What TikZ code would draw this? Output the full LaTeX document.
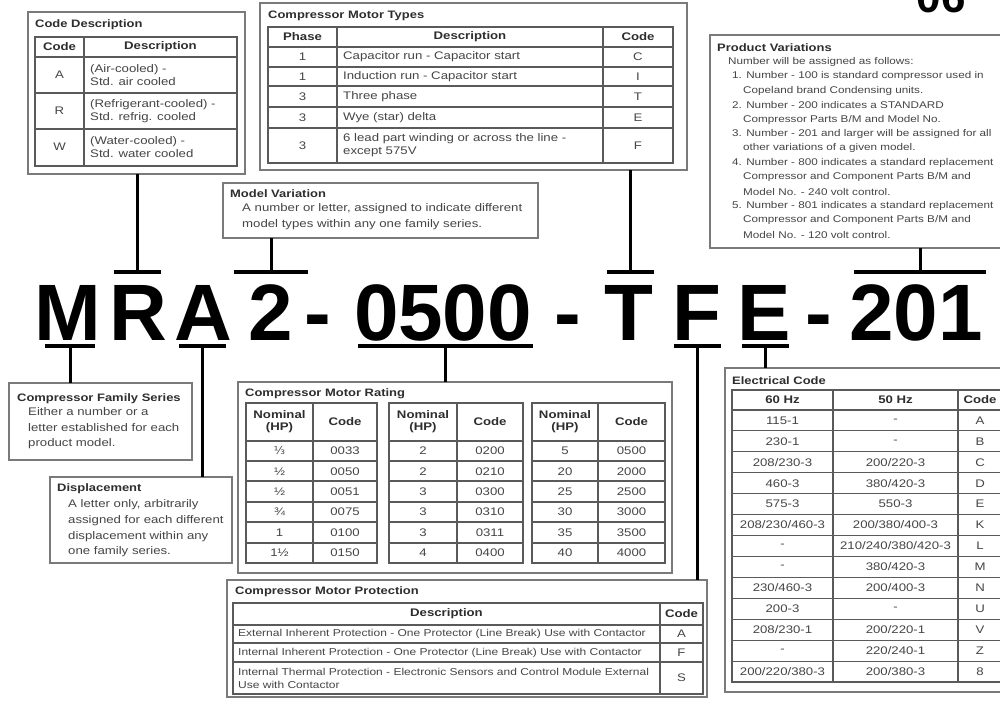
\documentclass[tikz,border=0pt]{standalone}
\usepackage{fontspec}
\setmainfont{Liberation Sans}[FakeStretch=1.2]
\newfontfamily\bigfont{Liberation Sans}
\newfontfamily\symfont{DejaVu Sans}[FakeStretch=1.05]
\definecolor{boxc}{HTML}{7A7A7A}
\definecolor{tblc}{HTML}{5A5A5A}
\definecolor{txtc}{HTML}{454545}
\definecolor{ttlc}{HTML}{2E2E2E}
\tikzset{
  box/.style={draw=boxc, line width=1.8pt, fill=white, inner sep=0pt, outer sep=0pt, anchor=north west},
  tbl/.style={draw=tblc, line width=1.1pt},
  txt/.style={inner sep=0pt, text=txtc, font=\fontsize{11}{13}\selectfont},
  lt/.style={txt, anchor=west, align=left},
  ct/.style={txt, align=center},
  hd/.style={inner sep=0pt, align=center, text=ttlc, font=\fontsize{11}{12}\selectfont\bfseries},
  ttl/.style={inner sep=0pt, anchor=west, text=ttlc, font=\fontsize{10.8}{12}\selectfont\bfseries},
  bar/.style={fill=black, inner sep=0pt, outer sep=0pt, minimum height=4pt},
  conn/.style={draw=black, line width=3pt},
  big/.style={inner sep=0pt, anchor=base, text=black, font=\bigfont\fontsize{80}{80}\selectfont\bfseries},
}
\begin{document}
\begin{tikzpicture}[x=1pt,y=-1pt]
\useasboundingbox (0,0) rectangle (1000,701);
\fill[white] (0,0) rectangle (1000,701);

% page number, cut at top as in the reference
\node[inner sep=0pt, anchor=base, text=black, font=\bigfont\fontsize{44}{44}\selectfont\bfseries] (pg) at (941,13) {06};

% ---------------- boxes ----------------
\node[box, minimum width=217pt, minimum height=162pt] (cd) at (28,12) {};
\node[box, minimum width=427pt, minimum height=167pt] (mt) at (260,3) {};
\node[box, minimum width=315pt, minimum height=55pt] (mv) at (223,183) {};
\node[box, minimum width=300pt, minimum height=213pt] (pv) at (710,35) {};
\node[box, minimum width=183pt, minimum height=77pt] (fs) at (9,383) {};
\node[box, minimum width=182pt, minimum height=86pt] (dp) at (50,477) {};
\node[box, minimum width=434pt, minimum height=191pt] (mr) at (238,382) {};
\node[box, minimum width=285pt, minimum height=324pt] (ec) at (725,368) {};
\node[box, minimum width=480pt, minimum height=117pt] (mp) at (227,580) {};

% ---------------- model number ----------------
\node[big] (lM) at (68,340) {M};
\node[big] (lR) at (138,340) {R};
\node[big] (lA) at (203,340) {A};
\node[big] (l2) at (271,340) {2};
\node[big] (h1) at (318,340) {-};
\node[big] (l0500) at (443,340) {0500};
\node[big] (h2) at (568,340) {-};
\node[big] (lT) at (629,340) {T};
\node[big] (lF) at (697,340) {F};
\node[big] (lE) at (764,340) {E};
\node[big] (h3) at (819,340) {-};
\node[big] (l201) at (916,340) {201};

% bars above
\node[bar, minimum width=47pt] (bR) at (137,272) {};
\node[bar, minimum width=74pt] (b2) at (271,272) {};
\node[bar, minimum width=47pt] (bT) at (630,272) {};
\node[bar, minimum width=132pt] (b201) at (920,272) {};
% bars below
\node[bar, minimum width=50pt] (bM) at (70,346) {};
\node[bar, minimum width=47pt] (bA) at (202,346) {};
\node[bar, minimum width=175pt] (b0500) at (445,346) {};
\node[bar, minimum width=47pt] (bF) at (697,346) {};
\node[bar, minimum width=47pt] (bE) at (765,346) {};

% connectors
\draw[conn] (bR.north) -- (bR.north |- cd.south);
\draw[conn] (b2.north) -- (b2.north |- mv.south);
\draw[conn] (bT.north) -- (bT.north |- mt.south);
\draw[conn] (b201.north) -- (b201.north |- pv.south);
\draw[conn] (bM.south) -- (bM.south |- fs.north);
\draw[conn] (bA.south) -- (bA.south |- dp.north);
\draw[conn] (b0500.south) -- (b0500.south |- mr.north);
\draw[conn] (bF.south) -- (bF.south |- mp.north);
\draw[conn] (bE.south) -- (bE.south |- ec.north);

% ---------------- Code Description ----------------
\node[ttl] (cd-t) at (35,25) {Code Description};
\draw[tbl] (35,37) rectangle (237,166);
\draw[tbl] (84,37) -- (84,166);
\foreach \y in {57,93,129} \draw[tbl] (35,\y) -- (237,\y);
\node[hd] (cd-h1) at (59.5,47) {Code};
\node[hd] (cd-h2) at (160.5,47) {Description};
\foreach \c/\a/\b [count=\i] in {A/{(Air-cooled) -}/{Std. air cooled},
    R/{(Refrigerant-cooled) -}/{Std. refrig. cooled},
    W/{(Water-cooled) -}/{Std. water cooled}} {
  \node[ct] (cd-c\i) at (59.5,{39+36*\i}) {\c};
  \node[lt] (cd-d\i) at (90,{39+36*\i}) {\a\\\b};
}

% ---------------- Compressor Motor Types ----------------
\node[ttl] (mt-t) at (268,16) {Compressor Motor Types};
\draw[tbl] (268,27) rectangle (673,163);
\draw[tbl] (337,27) -- (337,163);
\draw[tbl] (603,27) -- (603,163);
\foreach \y in {47,67,86,107,128} \draw[tbl] (268,\y) -- (673,\y);
\node[hd] (mt-h1) at (302.5,37) {Phase};
\node[hd] (mt-h2) at (470,37) {Description};
\node[hd] (mt-h3) at (638,37) {Code};
\foreach \p/\d/\c/\y [count=\i] in {1/{Capacitor run - Capacitor start}/C/57,
    1/{Induction run - Capacitor start}/I/76.5,
    3/{Three phase}/T/96.5,
    3/{Wye (star) delta}/E/117.5,
    3/{6 lead part winding or across the line -\\except 575V}/F/145.5} {
  \node[ct] (mt-p\i) at (302.5,\y) {\p};
  \node[lt] (mt-d\i) at (343,\y) {\d};
  \node[ct] (mt-c\i) at (638,\y) {\c};
}

% ---------------- Model Variation ----------------
\node[ttl] (mv-t) at (230,194) {Model Variation};
\node[lt, font=\fontsize{11}{16}\selectfont] (mv-b) at (242,217) {A number or letter, assigned to indicate different\\model types within any one family series.};

% ---------------- Product Variations ----------------
\node[ttl] (pv-t) at (717,48) {Product Variations};
\foreach \x/\t [count=\i] in {728/{Number will be assigned as follows:},
    732/{1. Number - 100 is standard compressor used in},
    743/{Copeland brand Condensing units.},
    732/{2. Number - 200 indicates a STANDARD},
    743/{Compressor Parts B/M and Model No.},
    732/{3. Number - 201 and larger will be assigned for all},
    743/{other variations of a given model.},
    732/{4. Number - 800 indicates a standard replacement},
    743/{Compressor and Component Parts B/M and},
    743/{Model No. - 240 volt control.},
    732/{5. Number - 801 indicates a standard replacement},
    743/{Compressor and Component Parts B/M and},
    743/{Model No. - 120 volt control.}} {
  \node[lt, font=\fontsize{9.75}{12}\selectfont] (pv-\i) at (\x,{47.6+14.4*\i}) {\t};
}

% ---------------- Compressor Family Series ----------------
\node[ttl] (fs-t) at (17,399) {Compressor Family Series};
\node[lt, font=\fontsize{11}{15.5}\selectfont] (fs-b) at (28,428.5) {Either a number or a\\letter established for each\\product model.};

% ---------------- Displacement ----------------
\node[ttl] (dp-t) at (57,489) {Displacement};
\node[lt, font=\fontsize{11}{15.7}\selectfont] (dp-b) at (68,528.5) {A letter only, arbitrarily\\assigned for each different\\displacement within any\\one family series.};

% ---------------- Compressor Motor Rating ----------------
\node[ttl] (mr-t) at (245,394) {Compressor Motor Rating};
\foreach \xa/\xb/\xc [count=\k] in {246/313/377, 389/457/523, 532/598/665} {
  \draw[tbl] (\xa,403) rectangle (\xc,563);
  \draw[tbl] (\xb,403) -- (\xb,563);
  \foreach \y in {441,461,481,502,522,543} \draw[tbl] (\xa,\y) -- (\xc,\y);
  \node[hd] (mr-h\k-a) at ({(\xa+\xb)/2},422) {Nominal\\(HP)};
  \node[hd] (mr-h\k-b) at ({(\xb+\xc)/2},422) {Code};
}
\foreach \h/\c [count=\i] in {{{\symfont ⅓}}/0033, ½/0050, ½/0051, ¾/0075, 1/0100, 1½/0150} {
  \node[ct] (mr-a\i) at (279.5,{430.5+20.4*\i}) {\h};
  \node[ct] (mr-b\i) at (345,{430.5+20.4*\i}) {\c};
}
\foreach \h/\c [count=\i] in {2/0200, 2/0210, 3/0300, 3/0310, 3/0311, 4/0400} {
  \node[ct] (mr-c\i) at (423,{430.5+20.4*\i}) {\h};
  \node[ct] (mr-d\i) at (490,{430.5+20.4*\i}) {\c};
}
\foreach \h/\c [count=\i] in {5/0500, 20/2000, 25/2500, 30/3000, 35/3500, 40/4000} {
  \node[ct] (mr-e\i) at (565,{430.5+20.4*\i}) {\h};
  \node[ct] (mr-f\i) at (631.5,{430.5+20.4*\i}) {\c};
}

% ---------------- Electrical Code ----------------
\node[ttl] (ec-t) at (732,381) {Electrical Code};
\draw[tbl] (732,390) rectangle (1002,682);
\draw[tbl] (833,390) -- (833,682);
\draw[tbl] (958,390) -- (958,682);
\draw[tbl] (732,410) -- (1002,410);
\foreach \i in {1,...,12} \draw[tbl] (732,{410+20.92*\i}) -- (1002,{410+20.92*\i});
\node[hd] (ec-h1) at (782.5,400) {60 Hz};
\node[hd] (ec-h2) at (895.5,400) {50 Hz};
\node[hd] (ec-h3) at (980,400) {Code};
\foreach \a/\b/\c [count=\i] in {{115-1}/{-}/A, {230-1}/{-}/B, {208/230-3}/{200/220-3}/C,
    {460-3}/{380/420-3}/D, {575-3}/{550-3}/E, {208/230/460-3}/{200/380/400-3}/K,
    {-}/{210/240/380/420-3}/L, {-}/{380/420-3}/M, {230/460-3}/{200/400-3}/N,
    {200-3}/{-}/U, {208/230-1}/{200/220-1}/V, {-}/{220/240-1}/Z,
    {200/220/380-3}/{200/380-3}/8} {
  \node[ct] (ec-a\i) at (782.5,{410+20.92*(\i-0.5)}) {\a};
  \node[ct] (ec-b\i) at (895.5,{410+20.92*(\i-0.5)}) {\b};
  \node[ct] (ec-c\i) at (980,{410+20.92*(\i-0.5)}) {\c};
}

% ---------------- Compressor Motor Protection ----------------
\node[ttl] (mp-t) at (235,592) {Compressor Motor Protection};
\draw[tbl] (233,603) rectangle (703,694);
\draw[tbl] (660,603) -- (660,694);
\foreach \y in {625,643,662} \draw[tbl] (233,\y) -- (703,\y);
\node[hd] (mp-h1) at (446.5,614) {Description};
\node[hd] (mp-h2) at (681.5,614) {Code};
\foreach \d/\c/\y [count=\i] in {{External Inherent Protection - One Protector (Line Break) Use with Contactor}/A/634,
    {Internal Inherent Protection - One Protector (Line Break) Use with Contactor}/F/652.5,
    {Internal Thermal Protection - Electronic Sensors and Control Module External\\Use with Contactor}/S/678} {
  \node[lt, font=\fontsize{10}{13}\selectfont] (mp-d\i) at (238,\y) {\d};
  \node[ct] (mp-c\i) at (681.5,\y) {\c};
}
\end{tikzpicture}
\end{document}
